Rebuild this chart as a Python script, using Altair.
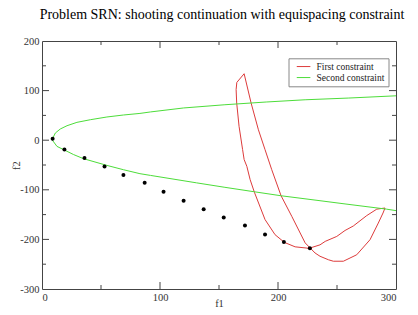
import altair as alt
import pandas as pd

title_text = "Problem SRN: shooting continuation with equispacing constraint"
series_names = ["First constraint", "Second constraint"]
series_colors = ["#dd3b3b", "#4ddd3a"]

dot_f1 = [9, 19, 36, 53, 69, 87, 103, 120, 137, 154, 172, 189, 205, 227]
dot_f2 = [3, -19, -36, -53, -70, -86, -104, -122, -139, -156, -172, -190, -205, -218]

green_f1 = [300, 260, 223, 190, 155, 120, 92, 83, 69, 55, 41, 29.6, 21.2, 15.5, 11.3, 8.5,
            12.7, 18.3, 26.8, 35.2, 55, 69, 83, 92, 131, 155, 180, 202.6, 235.6, 256.8, 292, 300]
green_f2 = [89.5, 85, 81.5, 77, 71.5, 65, 57, 54, 50.8, 46.8, 41.3, 36, 29.2, 22.6, 14.5, 1,
            -12.5, -19, -29, -37.3, -50.8, -59.5, -67.5, -71, -86, -95, -104, -112, -122, -128.5, -139, -142]

red_f1 = [165.1, 164.5, 165, 167, 170, 171.3, 173.6, 176.4, 180, 189, 197.5, 205.4, 214.5, 226.3,
          235.6, 240, 249.8, 256.8, 263.8, 275.2, 283.7, 290.7, 289, 285, 278, 266.7, 255.4, 246.9,
          242.7, 235.6, 231.4, 223, 211.7, 202.6, 194.7, 189, 183.4, 177.2, 171.3, 165.1]
red_f2 = [116.5, 102, 75, 28, -19, -39, -52.8, -79.6, -105, -160, -190.5, -206, -215, -218,
          -211, -204, -194, -182, -173, -152, -139, -136.7, -146.8, -167, -200.6, -231, -244, -244,
          -241, -234, -227.4, -207, -153.6, -112, -59.5, -19, 21, 75, 134, 116.5]

x_labels = [0, 100, 200, 300]
y_labels = [-300, -200, -100, 0, 100, 200]
x_major = [100, 200]
x_minor = [50, 150, 250]
y_major = [-200, -100, 0, 100]
y_minor = [-250, -150, -50, 50, 150]

W, H = 354, 248
MAJ, MIN = 7, 4
frame_col = "#444444"
serif = "Liberation Serif"

dots = pd.DataFrame({"f1": dot_f1, "f2": dot_f2})
lines = pd.concat([
    pd.DataFrame({"f1": red_f1, "f2": red_f2, "series": series_names[0], "i": range(len(red_f1))}),
    pd.DataFrame({"f1": green_f1, "f2": green_f2, "series": series_names[1], "i": range(len(green_f1))}),
])

xs = alt.Scale(domain=[0, 300], nice=False, zero=False)
ys = alt.Scale(domain=[-300, 200], nice=False, zero=False)

xaxis = alt.Axis(values=x_labels, grid=False, ticks=False, tickSize=0, domain=False,
                 labelFont=serif, labelFontSize=10.5, labelColor="#333", labelPadding=3,
                 labelExpr="datum.value + ''", title="f1", titleFont=serif,
                 titleFontSize=10.5, titleFontWeight="normal", titleColor="#333",
                 titleX=W / 2, titleY=14, titleBaseline="middle")
yaxis = alt.Axis(values=y_labels, grid=False, ticks=False, tickSize=0, domain=False,
                 labelFont=serif, labelFontSize=10.5, labelColor="#333", labelPadding=3,
                 labelExpr="datum.value + ''", title="f2", titleFont=serif,
                 titleFontSize=10.5, titleFontWeight="normal", titleColor="#333",
                 titleX=-26, titleY=H / 2, titleBaseline="middle", titleAngle=270)

line_layer = alt.Chart(lines).mark_line(strokeWidth=1, clip=True).encode(
    x=alt.X("f1:Q", scale=xs, axis=xaxis),
    y=alt.Y("f2:Q", scale=ys, axis=yaxis),
    color=alt.Color("series:N", scale=alt.Scale(domain=series_names, range=series_colors),
                    legend=alt.Legend(title=None, orient="none", legendX=246.5, legendY=17.3,
                                      strokeColor="#888", fillColor="white", padding=3.5,
                                      symbolType="M0,0H3.4", symbolSize=64, symbolStrokeWidth=1,
                                      symbolFillColor="transparent",
                                      labelFont=serif, labelFontSize=9.5, labelColor="#222",
                                      labelOffset=15, rowPadding=0)),
    detail="series:N",
    order="i:Q",
)

dot_layer = alt.Chart(dots).mark_circle(size=16, color="black", opacity=1).encode(
    x=alt.X("f1:Q", scale=xs), y=alt.Y("f2:Q", scale=ys))

tick_layers = []
for vals, length in [(x_major, MAJ), (x_minor, MIN)]:
    d = pd.DataFrame({"v": vals})
    tick_layers.append(alt.Chart(d).mark_rule(color=frame_col, strokeWidth=1).encode(
        x=alt.X("v:Q", scale=xs), y=alt.value(H), y2=alt.value(H - length)))
    tick_layers.append(alt.Chart(d).mark_rule(color=frame_col, strokeWidth=1).encode(
        x=alt.X("v:Q", scale=xs), y=alt.value(0), y2=alt.value(length)))
for vals, length in [(y_major, MAJ), (y_minor, MIN)]:
    d = pd.DataFrame({"v": vals})
    tick_layers.append(alt.Chart(d).mark_rule(color=frame_col, strokeWidth=1).encode(
        y=alt.Y("v:Q", scale=ys), x=alt.value(0), x2=alt.value(length)))
    tick_layers.append(alt.Chart(d).mark_rule(color=frame_col, strokeWidth=1).encode(
        y=alt.Y("v:Q", scale=ys), x=alt.value(W), x2=alt.value(W - length)))

chart = alt.layer(line_layer, dot_layer, *tick_layers).properties(
    width=W, height=H,
    title=alt.TitleParams(text=title_text, font=serif, fontSize=14, fontWeight="normal",
                          color="black", anchor="middle", frame="group", offset=14.5, dx=3),
    autosize=alt.AutoSizeParams(type="none"),
    padding={"left": 34, "top": 33, "right": 10, "bottom": 20},
).configure_view(stroke=frame_col, strokeWidth=1)

chart.save("out.html", embed_options={"renderer": "svg", "actions": False})
